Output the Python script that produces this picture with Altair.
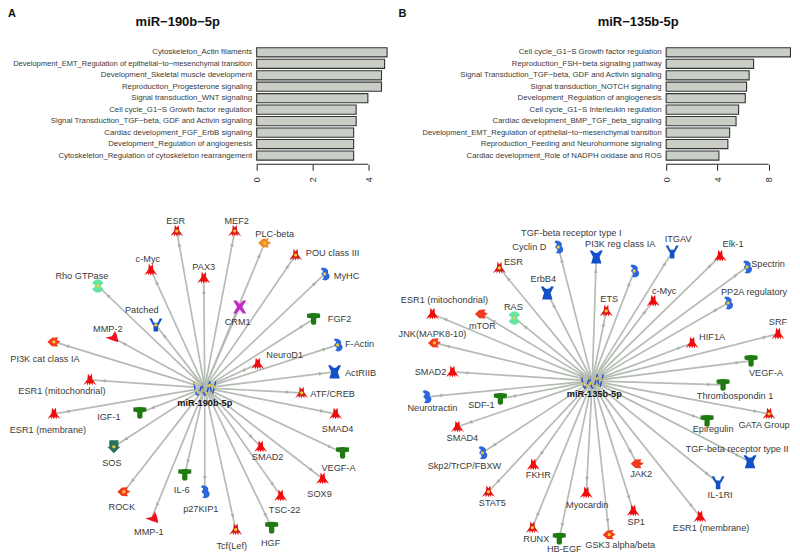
import math

import altair as alt
import pandas as pd

# ---------- bar panels ----------
terms_a = ["Cytoskeleton_Actin filaments",
           "Development_EMT_Regulation of epithelial\u2212to\u2212mesenchymal transition",
           "Development_Skeletal muscle development",
           "Reproduction_Progesterone signaling",
           "Signal transduction_WNT signaling",
           "Cell cycle_G1\u2212S Growth factor regulation",
           "Signal Transduction_TGF\u2212beta, GDF and Activin signaling",
           "Cardiac development_FGF_ErbB signaling",
           "Development_Regulation of angiogenesis",
           "Cytoskeleton_Regulation of cytoskeleton rearrangement"]
scores_a = [4.68, 4.59, 4.48, 4.48, 3.99, 3.57, 3.57, 3.48, 3.48, 3.48]
ticks_a = [0, 1, 2, 3, 4]

terms_b = ["Cell cycle_G1\u2212S Growth factor regulation",
           "Reproduction_FSH\u2212beta signaling pathway",
           "Signal Transduction_TGF\u2212beta, GDF and Activin signaling",
           "Signal transduction_NOTCH signaling",
           "Development_Regulation of angiogenesis",
           "Cell cycle_G1\u2212S Interleukin regulation",
           "Cardiac development_BMP_TGF_beta_signaling",
           "Development_EMT_Regulation of epithelial\u2212to\u2212mesenchymal transition",
           "Reproduction_Feeding and Neurohormone signaling",
           "Cardiac development_Role of NADPH oxidase and ROS"]
scores_b = [9.71, 6.83, 6.48, 6.28, 6.18, 5.66, 5.46, 4.96, 4.82, 4.12]
ticks_b = [0, 2, 4, 6, 8]

# ---------- network nodes: name, x, y, kind, dot, label x, label y ----------
nodes_a = [
    ("ESR", 177, 231, "tf", 1, 176, 221), ("c-Myc", 151, 270, "tf2", 0, 148, 259),
    ("Rho GTPase", 98, 286, "gtp", 1, 82, 276), ("Patched", 156, 325, "rec", 1, 142, 310),
    ("MMP-2", 112, 337, "prot", 0, 108, 329), ("PI3K cat class IA", 54, 342, "kin", 1, 45, 359),
    ("MEF2", 235, 231, "tf", 1, 237, 221), ("PLC-beta", 265, 243, "plc", 1, 275, 234),
    ("PAX3", 204, 278, "tf2", 0, 204, 267), ("POU class III", 296, 255, "tf", 1, 333, 253),
    ("MyHC", 325, 274, "bind", 1, 347, 276), ("CRM1", 240, 307, "x", 0, 238, 322),
    ("FGF2", 314, 319, "lig", 0, 340, 319), ("F-Actin", 338, 345, "bind", 1, 360, 344),
    ("NeuroD1", 258, 364, "tf2", 0, 285, 355), ("ActRIIB", 335, 372, "recw", 0, 361, 373),
    ("ESR1 (mitochondrial)", 90, 380, "tf2", 0, 62, 391), ("ESR1 (membrane)", 54, 414, "tf2", 0, 48, 430),
    ("IGF-1", 140, 413, "lig", 0, 109, 417), ("SOS", 114, 447, "sos", 1, 112, 463),
    ("IL-6", 185, 475, "lig", 0, 182, 490), ("ROCK", 124, 492, "kin", 1, 122, 507),
    ("MMP-1", 152, 518, "prot", 0, 149, 532), ("p27KIP1", 205, 492, "bind", 0, 201, 509),
    ("ATF/CREB", 302, 393, "tf", 1, 333, 394), ("SMAD4", 336, 414, "tf2", 0, 338, 429),
    ("SMAD2", 261, 447, "tf2", 0, 268, 457), ("VEGF-A", 343, 453, "lig", 0, 339, 468),
    ("SOX9", 323, 479, "tf2", 0, 320, 494), ("TSC-22", 281, 496, "tf2", 0, 285, 510),
    ("Tcf(Lef)", 236, 530, "tf", 1, 232, 546), ("HGF", 272, 528, "lig", 0, 271, 543),
]
nodes_b = [
    ("TGF-beta receptor type I", 635, 271, "bind", 1, 572, 233),
    ("Cyclin D", 559, 247, "bind", 1, 530, 247), ("PI3K reg class IA", 597, 257, "recw", 0, 621, 244),
    ("ESR", 500, 268, "tf", 1, 514, 262), ("ErbB4", 548, 293, "recw", 0, 544, 279),
    ("ESR1 (mitochondrial)", 433, 314, "tf2", 0, 445, 300), ("mTOR", 482, 314, "kin", 0, 483, 326),
    ("RAS", 515, 318, "gtp", 1, 514, 307), ("JNK(MAPK8-10)", 435, 343, "kin", 1, 433, 334),
    ("SMAD2", 453, 372, "tf2", 0, 431, 372), ("ETS", 607, 311, "tf", 1, 610, 299),
    ("ITGAV", 673, 252, "rec", 0, 679, 239), ("Elk-1", 721, 256, "tf2", 0, 734, 244),
    ("Spectrin", 748, 267, "bind", 1, 769, 264), ("c-Myc", 654, 301, "tf2", 0, 665, 291),
    ("PP2A regulatory", 729, 303, "bind", 1, 755, 292), ("HIF1A", 693, 343, "tf2", 0, 713, 337),
    ("SRF", 779, 334, "tf2", 0, 779, 322), ("VEGF-A", 752, 361, "lig", 0, 767, 373),
    ("Neurotractin", 427, 397, "bind", 0, 433, 408), ("SDF-1", 501, 399, "lig", 0, 482, 405),
    ("SMAD4", 458, 427, "tf2", 0, 463, 438), ("Skp2/TrCP/FBXW", 483, 453, "bind", 1, 465, 466),
    ("FKHR", 534, 465, "tf2", 0, 539, 475), ("STAT5", 489, 492, "tf", 1, 493, 503),
    ("Myocardin", 587, 493, "tf2", 0, 588, 505), ("RUNX", 533, 528, "tf", 1, 537, 539),
    ("HB-EGF", 560, 539, "lig", 0, 565, 549), ("GSK3 alpha/beta", 610, 535, "kin", 1, 621, 545),
    ("Thrombospondin 1", 724, 385, "lig", 0, 736, 396), ("GATA Group", 770, 414, "tf", 1, 765, 425),
    ("Epiregulin", 708, 421, "lig", 0, 714, 429), ("TGF-beta receptor type II", 751, 462, "recw", 0, 738, 449),
    ("JAK2", 638, 464, "kin", 0, 642, 474), ("IL-1RI", 719, 483, "rec", 0, 721, 495),
    ("SP1", 634, 511, "tf2", 0, 637, 522), ("ESR1 (membrane)", 701, 517, "tf2", 0, 712, 528),
]
hub_a = ("miR-190b-5p", 205, 388, 205, 403)
hub_b = ("miR-135b-5p", 593, 381, 595, 394)

titles = [("miR\u2212190b\u22125p", 178, 21.5), ("miR\u2212135b-5p", 639, 21.5)]
letters = [("A", 8, 14), ("B", 399, 14)]

# ---------- icon shapes ----------
spider = "M-0.3,-0.95 L0,-0.55 L0.3,-0.95 L0.38,-0.1 L1,0.8 L0.45,0.45 L0.42,0.85 L0.17,0.45 L0,0.85 L-0.17,0.45 L-0.42,0.85 L-0.45,0.45 L-1,0.8 L-0.38,-0.1 Z"
kinds = ["tf", "tf2", "gtp", "rec", "recw", "prot", "kin", "plc", "bind", "x", "lig", "sos"]
kind_shapes = [
    spider, spider,
    "M-0.3,-1 L0.3,-1 L0.9,-0.5 L0.4,-0.05 L0.4,0.05 L0.9,0.5 L0.3,1 L-0.3,1 L-0.9,0.5 L-0.4,0.05 L-0.4,-0.05 L-0.9,-0.5 Z",
    "M-1,-1 L-0.6,-1 L-0.3,-0.35 L0.3,-0.35 L0.6,-1 L1,-1 L0.45,0 L0.35,0.1 L0.35,1 L-0.35,1 L-0.35,0.1 L-0.45,0 Z",
    "M-1,-1 L-0.6,-1 Q0,-0.2 0.6,-1 L1,-1 L0.5,0 L0.8,1 L-0.8,1 L-0.5,0 Z",
    "M-1,0.1 L0,-0.1 L0.5,-0.9 L0.8,-0.2 L1,0.8 L0,0.5 Z",
    "M-1,0 L-0.3,-0.65 L0.65,-0.7 L0.45,-0.3 L1,-0.05 L0.45,0.3 L0.65,0.7 L-0.3,0.65 Z",
    "M-1,0 L-0.3,-0.65 L0.65,-0.7 L0.45,-0.3 L1,-0.05 L0.45,0.3 L0.65,0.7 L-0.3,0.65 Z",
    "M-0.4,-1 C0.4,-1 0.7,-0.5 0.5,-0.1 C0.9,0.1 0.9,0.9 0.1,1 L-0.4,0.9 C-0.1,0.7 0,0.4 -0.4,0.15 L-0.5,-0.1 C-0.1,-0.3 -0.2,-0.6 -0.6,-0.7 Z",
    "M-1,-1 L-0.5,-1 L0,-0.4 L0.5,-1 L1,-1 L0.4,0 L1,1 L0.5,1 L0,0.4 L-0.5,1 L-1,1 L-0.4,0 Z",
    "M-1,-0.8 Q0,-1 1,-0.8 L1,-0.2 L0.4,-0.1 L0.4,0.3 Q0.5,0.9 0,0.9 Q-0.5,0.9 -0.4,0.3 L-0.4,-0.1 L-1,-0.2 Z",
    "M-0.7,-1 L0.7,-1 L0.7,0 L1,0 L0,1 L-1,0 L-0.7,0 Z",
]
kind_colors = ["#d81818", "#f00c0c", "#62e6a2", "#1450c8", "#1450c8", "#f01020", "#f23a1e",
               "#f08a28", "#2c66dc", "#c02cc8", "#1f7a12", "#2a6e5c"]
wave = "M-1,-0.6 Q-0.8,0.9 -0.6,0.6 Q-0.4,0.3 -0.25,-0.4 Q-0.1,0.9 0.1,0.6 Q0.3,0.3 0.45,-0.6 Q0.6,0.9 0.75,0.4 Q0.9,-0.1 1,-0.6"

# ---------- tables ----------
cols = ["name", "x", "y", "kind", "dot", "lx", "ly"]
df_a = pd.DataFrame(nodes_a, columns=cols).assign(hx=hub_a[1], hy=hub_a[2])
df_b = pd.DataFrame(nodes_b, columns=cols).assign(hx=hub_b[1], hy=hub_b[2])
nodes = pd.concat([df_a, df_b], ignore_index=True)
hubs = pd.DataFrame([hub_a, hub_b], columns=["name", "x", "y", "lx", "ly"])
title_df = pd.DataFrame(titles, columns=["t", "x", "y"])
letter_df = pd.DataFrame(letters, columns=["t", "x", "y"])

# small arrowheads just before each node, along the edge from the hub
heads = []
for r in nodes.itertuples():
    dx, dy = r.x - r.hx, r.y - r.hy
    d = math.hypot(dx, dy)
    heads.append({"x": r.x - 14 * dx / d, "y": r.y - 14 * dy / d,
                  "a": math.degrees(math.atan2(dx, -dy)) % 360})
heads = pd.DataFrame(heads)

FONT = "Liberation Sans"
W = 784
HEAD_H = 1
GAP = 37.3                    # a nested row takes no height in a flush layout
BAR_H = 114.8
TOTAL_H = 547
NET_Y = HEAD_H + 2 * GAP      # where the network panel starts inside the chart
NET_H = TOTAL_H - NET_Y
NET_TOP = 8 + NET_Y

xs = alt.Scale(domain=[8, 8 + W])
ys = alt.Scale(domain=[8 + TOTAL_H, NET_TOP])
X = alt.X("x:Q", scale=xs, axis=None)
Y = alt.Y("y:Q", scale=ys, axis=None)
LX = alt.X("lx:Q", scale=xs, axis=None)
LY = alt.Y("ly:Q", scale=ys, axis=None)

edges = alt.Chart(nodes).mark_rule(color="#b5bcb4", strokeWidth=1.7).encode(
    x=X, y=Y, x2="hx:Q", y2="hy:Q")
arrow = alt.Chart(heads).mark_point(shape="triangle-up", filled=True, size=16, color="#a8afa7", opacity=1).encode(
    x=X, y=Y, angle=alt.Angle("a:Q", scale=None))
icons = alt.Chart(nodes).mark_point(filled=True, size=170, opacity=1, strokeWidth=0.3).encode(
    x=X, y=Y,
    shape=alt.Shape("kind:N", scale=alt.Scale(domain=kinds, range=kind_shapes), legend=None),
    color=alt.Color("kind:N", scale=alt.Scale(domain=kinds, range=kind_colors), legend=None))
dots = alt.Chart(nodes).transform_filter("datum.dot == 1").mark_point(
    filled=True, size=11, color="#f2c832", opacity=1, shape="circle").encode(x=X, y=Y)
node_text = alt.Chart(nodes).mark_text(font=FONT, fontSize=9.2, color="#3a3a3a").encode(
    x=LX, y=LY, text="name:N")
hub_blue = alt.Chart(hubs).mark_point(shape=wave, size=480, filled=False, color="#2a50c8",
                                      strokeWidth=1.5, opacity=1).encode(x=X, y=Y)
hub_yellow = alt.Chart(hubs).mark_point(shape=wave, size=480, filled=False, color="#e8d030",
                                        strokeWidth=1.5, strokeDash=[3, 5], opacity=1).encode(x=X, y=Y)
hub_text = alt.Chart(hubs).mark_text(font=FONT, fontSize=9.2, fontWeight="bold", color="#111").encode(
    x=LX, y=LY, text="name:N")
network = alt.layer(edges, arrow, icons, dots, node_text, hub_blue, hub_yellow, hub_text).properties(
    width=W, height=NET_H)

hys = alt.Scale(domain=[8 + HEAD_H, 8])
HY = alt.Y("y:Q", scale=hys, axis=None)
title_text = alt.Chart(title_df).mark_text(font=FONT, fontSize=13, fontWeight="bold", color="#111").encode(
    x=X, y=HY, text="t:N")
letter_text = alt.Chart(letter_df).mark_text(font=FONT, fontSize=11, fontWeight="bold", color="#111",
                                             align="left").encode(x=X, y=HY, text="t:N")
header = alt.layer(title_text, letter_text).properties(width=W, height=HEAD_H)


def bars(terms, scores, ticks, width, xmax):
    df = pd.DataFrame({"term": terms, "score": scores})
    base = alt.Chart(df).mark_bar(fill="#c9cec6", stroke="#333333", strokeWidth=1.1).encode(
        x=alt.X("score:Q", scale=alt.Scale(domain=[0, xmax], nice=False),
                axis=alt.Axis(values=ticks, title=None, grid=False, domain=False, offset=3,
                              tickSize=6, tickColor="#222222", labelAngle=270, labelFont=FONT,
                              labelFontSize=9, labelColor="#333333", labelPadding=9,
                              labelAlign="center", labelBaseline="middle", labelFlush=False)),
        y=alt.Y("term:N", sort=None,
                scale=alt.Scale(paddingInner=0.2, paddingOuter=0.1),
                axis=alt.Axis(title=None, domain=False, ticks=False, labelFont=FONT,
                              labelFontSize={"condition": {"test": "length(datum.label) > 60", "value": 7.55},
                                             "value": 7.8},
                              labelColor="#3a3a3a", labelLimit=400, labelPadding=5)))
    rule = alt.Chart(pd.DataFrame({"a": [ticks[0]], "b": [ticks[-1]]})).mark_rule(
        color="#222222", strokeWidth=1).encode(x="a:Q", x2="b:Q", y=alt.value(BAR_H + 3))
    return alt.layer(base, rule).properties(width=width, height=BAR_H)


panel_a = bars(terms_a, scores_a, ticks_a, 131, 131 / 27.9)
panel_b = bars(terms_b, scores_b, ticks_b, 124.6, 9.72)
spacer = alt.Chart(pd.DataFrame({"s": [""]})).mark_text().encode(text="s:N").properties(width=248.7, height=BAR_H)

row = alt.hconcat(spacer, alt.hconcat(panel_a, panel_b, spacing=279, bounds="flush"),
                  spacing=0, bounds="flush")
chart = alt.vconcat(header, row, network, spacing=GAP, bounds="flush").properties(
    padding=0, background="white").configure_view(stroke=None)

chart.save("out.html", embed_options={"renderer": "svg", "actions": False})
